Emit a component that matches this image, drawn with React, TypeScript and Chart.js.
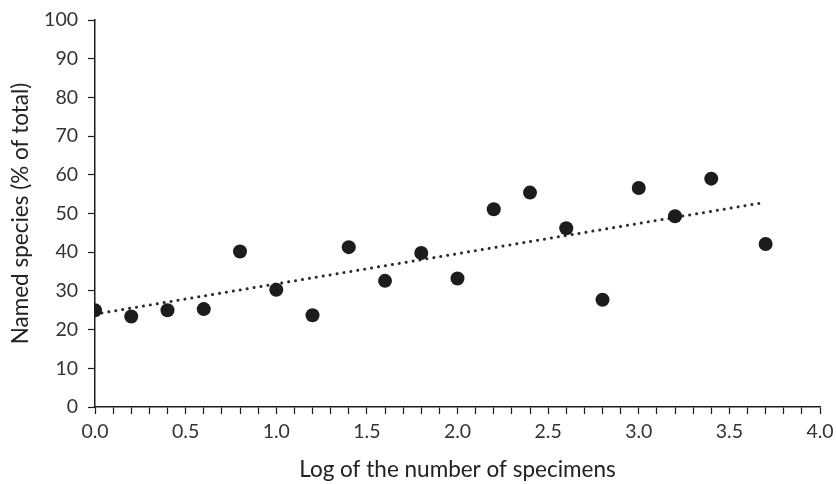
import React, { useEffect, useRef } from "react";
import { Chart, registerables } from "chart.js";

Chart.register(...registerables);

const xValues = [0.0, 0.2, 0.4, 0.6, 0.8, 1.0, 1.2, 1.4, 1.6, 1.8, 2.0, 2.2, 2.4, 2.6, 2.8, 3.0, 3.2, 3.4, 3.7];
const yValues = [25.0, 23.4, 25.0, 25.3, 40.2, 30.3, 23.7, 41.3, 32.6, 39.8, 33.2, 51.1, 55.4, 46.2, 27.7, 56.6, 49.3, 59.0, 42.1];
const trendX = [0.0, 3.7];
const trendY = [24.0, 52.9];

const xTitle = "Log of the number of specimens";
const yTitle = "Named species (% of total)";

const FONT = "Lato";
const INK = "#1c1c1c";

export default function App() {
  const ref = useRef<HTMLCanvasElement | null>(null);

  useEffect(() => {
    if (!ref.current) return;
    const chart = new Chart(ref.current, {
      type: "scatter",
      data: {
        datasets: [
          {
            label: "Named species",
            data: xValues.map((x, i) => ({ x, y: yValues[i] })),
            backgroundColor: INK,
            borderColor: INK,
            pointRadius: 7,
            pointBorderWidth: 0,
            showLine: false,
          },
          {
            label: "Trend",
            data: trendX.map((x, i) => ({ x, y: trendY[i] })),
            showLine: true,
            borderColor: "#2a2a2a",
            borderWidth: 3,
            borderDash: [0.01, 7],
            borderCapStyle: "round",
            pointRadius: 0,
            fill: false,
          },
        ],
      },
      options: {
        animation: false,
        responsive: false,
        maintainAspectRatio: false,
        layout: { padding: { top: 20, right: 16, left: 0, bottom: 0 } },
        plugins: {
          legend: { display: false },
          tooltip: { enabled: false },
        },
        scales: {
          x: {
            type: "linear",
            min: 0,
            max: 4,
            afterFit: (s: any) => {
              s.height = 77;
              s.paddingLeft = 0;
              s.paddingRight = 0;
            },
            border: { display: true, color: INK, width: 1.5 },
            grid: {
              drawOnChartArea: false,
              drawTicks: true,
              tickLength: 7,
              tickColor: INK,
              tickWidth: 1.2,
            },
            ticks: {
              stepSize: 0.1,
              autoSkip: false,
              maxRotation: 0,
              padding: 6,
              color: "#333",
              font: { family: FONT, size: 19.5 },
              callback: (v: any) => {
                const n = Number(v);
                return Math.abs(n * 2 - Math.round(n * 2)) < 1e-6 ? n.toFixed(1) : "";
              },
            },
            title: {
              display: true,
              text: xTitle,
              color: "#222",
              font: { family: FONT, size: 22.5 },
              padding: { top: 0, bottom: 1 },
            },
          },
          y: {
            type: "linear",
            min: 0,
            max: 100,
            afterFit: (s: any) => {
              s.width = 95;
              s.paddingTop = 0;
              s.paddingBottom = 0;
            },
            border: { display: true, color: INK, width: 1.5 },
            grid: {
              drawOnChartArea: false,
              drawTicks: true,
              tickLength: 7,
              tickColor: INK,
              tickWidth: 1.2,
            },
            ticks: {
              stepSize: 10,
              padding: 10,
              color: "#333",
              font: { family: FONT, size: 19.5 },
            },
            title: {
              display: true,
              text: yTitle,
              color: "#222",
              font: { family: FONT, size: 22.5 },
              padding: { top: 7, bottom: 0 },
            },
          },
        },
      },
    });
    return () => chart.destroy();
  }, []);

  return (
    <div style={{ position: "fixed", left: 0, top: 0, width: 836, height: 484, background: "#fff" }}>
      <canvas ref={ref} width={836} height={484} style={{ width: 836, height: 484 }} />
    </div>
  );
}
